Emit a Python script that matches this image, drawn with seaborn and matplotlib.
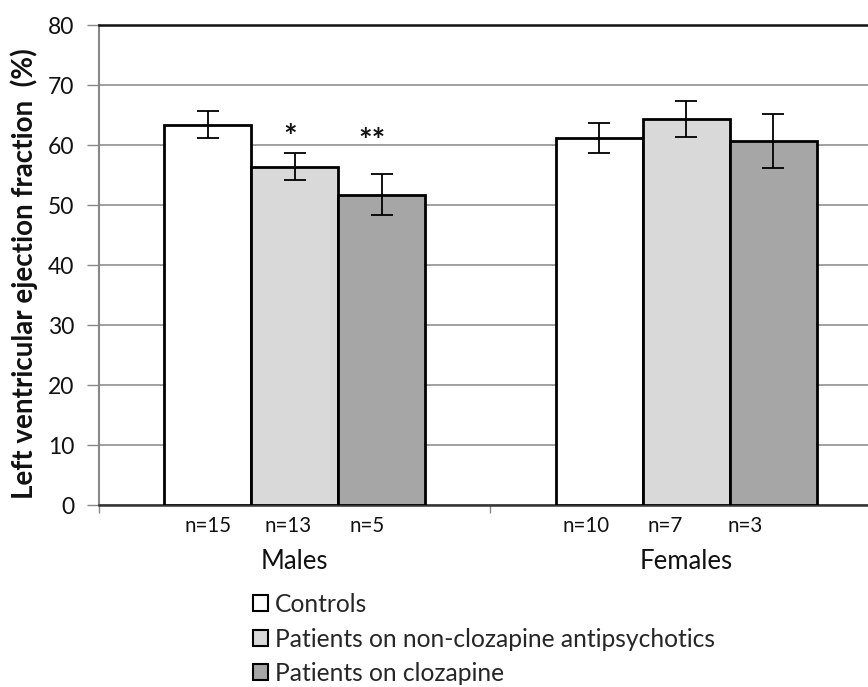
import matplotlib
matplotlib.use("Agg")
import matplotlib.pyplot as plt
import seaborn as sns
import pandas as pd
from matplotlib.patches import Patch

sexes = ["Males", "Females"]
groups = ["Controls", "Patients on non-clozapine antipsychotics", "Patients on clozapine"]
males_mean = [63.4, 56.4, 51.7]
males_err = [2.2, 2.2, 3.4]
females_mean = [61.2, 64.3, 60.6]
females_err = [2.5, 3.0, 4.5]
males_n = ["n=15", "n=13", "n=5"]
females_n = ["n=10", "n=7", "n=3"]
males_sig = ["", "*", "**"]
females_sig = ["", "", ""]
colors = ["#ffffff", "#d9d9d9", "#a6a6a6"]

# label placement tweaks (style only)
n_shift = {("Males", 0): 0.0, ("Males", 1): -0.018, ("Males", 2): -0.037,
           ("Females", 0): -0.033, ("Females", 1): -0.054, ("Females", 2): -0.072}
sig_shift = {1: -0.012, 2: -0.025}
sig_y = {1: 58.6, 2: 58.0}

rows = []
for sex, means, errs, ns, sigs in [("Males", males_mean, males_err, males_n, males_sig),
                                   ("Females", females_mean, females_err, females_n, females_sig)]:
    for g, m, e, n, s in zip(groups, means, errs, ns, sigs):
        rows.append(dict(sex=sex, group=g, value=m, err=e, n=n, sig=s))
df = pd.DataFrame(rows)

sns.set_theme(style="white")
plt.rcParams["font.family"] = ["Lato", "DejaVu Sans"]

fig = plt.figure(figsize=(8.68, 6.87), dpi=100)
ax = fig.add_axes([99 / 868, 1 - 505 / 687, (868 - 99) / 868, (505 - 25) / 687])

sns.barplot(data=df, x="sex", y="value", hue="group", order=sexes, hue_order=groups,
            palette=colors, width=0.667, errorbar=None, edgecolor="black",
            linewidth=2, legend=False, ax=ax, zorder=3)

bars = list(ax.patches)
k = 0
for gi, g in enumerate(groups):
    for si, s in enumerate(sexes):
        bar = bars[k]
        k += 1
        row = df[(df.sex == s) & (df.group == g)].iloc[0]
        cx = bar.get_x() + bar.get_width() / 2
        ax.errorbar(cx, row.value, yerr=row.err, fmt="none", ecolor="black",
                    elinewidth=1.3, capsize=8, capthick=1.3, zorder=4)
        if row.sig:
            ax.text(cx + sig_shift[gi], sig_y[gi], row.sig, ha="center", va="bottom",
                    fontsize=23, fontweight="bold", color="#111111")
        ax.text(cx + n_shift[(s, gi)], -1.9, row.n, ha="center", va="top",
                fontsize=14.8, color="#111111")

ax.set_ylim(0, 80)
ax.set_xlim(-0.5, 1.465)
ax.set_yticks(range(0, 81, 10))
ax.yaxis.grid(True, color="#a0a0a0", linewidth=1.4, zorder=0)
ax.set_axisbelow(True)
ax.tick_params(axis="y", labelsize=16.5, length=9, width=1, color="#888888", pad=9,
               labelcolor="#111111", left=True)
ax.set_xticks([-0.5, 0.5])
ax.set_xticklabels(["", ""])
ax.tick_params(axis="x", length=6, width=1, color="#888888", bottom=True)
for s, xpos in zip(sexes, [0, 1]):
    ax.text(xpos, -7.3, s, ha="center", va="top", fontsize=18.5, color="#111111")

ax.set_xlabel("")
ax.set_ylabel("Left ventricular ejection fraction  (%)", fontsize=20, fontweight="bold",
              color="#111111")
ax.yaxis.set_label_coords(-(99 - 38) / 769, (505 - 274) / 480)

ax.spines["left"].set_color("#888888")
ax.spines["left"].set_linewidth(1.5)
ax.spines["bottom"].set_color("#333333")
ax.spines["bottom"].set_linewidth(1.8)
ax.spines["top"].set_color("#111111")
ax.spines["top"].set_linewidth(1.8)
ax.spines["right"].set_visible(False)

handles = [Patch(facecolor=c, edgecolor="black", linewidth=1.5) for c in colors]
fig.legend(handles, groups, loc="upper left", bbox_to_anchor=(253 / 868, 1 - 593 / 687),
           frameon=False, fontsize=17.7, handlelength=0.62, handleheight=0.62,
           handletextpad=0.28, labelspacing=0.47, borderaxespad=0, borderpad=0)

fig.savefig("out.png", dpi=100)
